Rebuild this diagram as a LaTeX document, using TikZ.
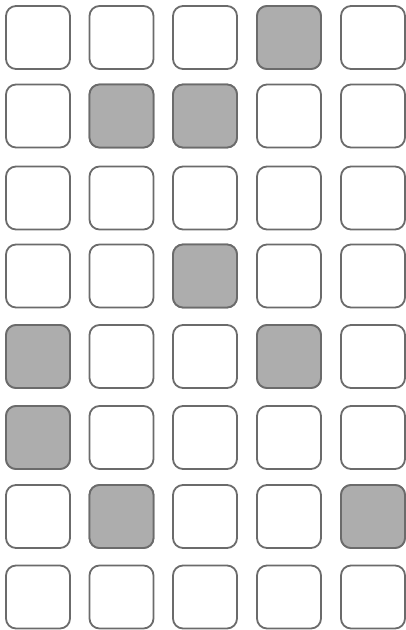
\documentclass[tikz,border=0pt]{standalone}
\begin{document}
\begin{tikzpicture}[x=1pt,y=-1pt,
  cell/.style={draw=black!58, line width=1.8pt, rounded corners=10pt, minimum width=64pt, minimum height=63pt, inner sep=0pt, fill=white},
  shaded/.style={cell, fill=black!32}]
\useasboundingbox (0,0) rectangle (406,630);
\def\colx{{38,121.5,205,289,373}}
\def\rowy{{37.5,116,198,276,356.5,437.5,516.5,597}}
\foreach \r in {0,...,7}{
  \foreach \c in {0,...,4}{
    \pgfmathsetmacro{\xx}{\colx[\c]}
    \pgfmathsetmacro{\yy}{\rowy[\r]}
    \node[cell] (b-\r-\c) at (\xx,\yy) {};
  }
}
\foreach \r/\c in {0/3,1/1,1/2,3/2,4/0,4/3,5/0,6/1,6/4}{
  \pgfmathsetmacro{\xx}{\colx[\c]}
  \pgfmathsetmacro{\yy}{\rowy[\r]}
  \node[shaded] (s-\r-\c) at (\xx,\yy) {};
}
\end{tikzpicture}
\end{document}
